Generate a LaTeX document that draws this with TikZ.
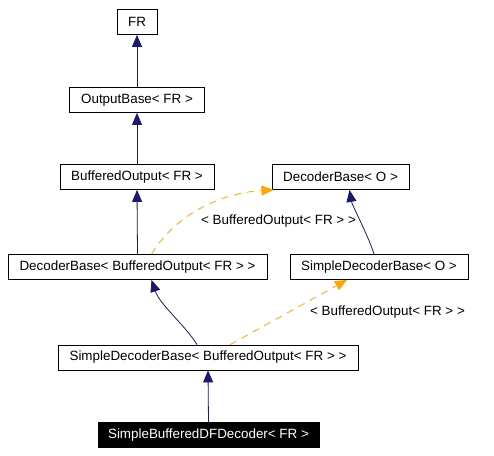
\documentclass[tikz,border=0pt]{standalone}
\usepackage{fontspec}
\setmainfont{Liberation Sans}
\usetikzlibrary{arrows.meta}
\definecolor{edgeblue}{HTML}{191970}
\definecolor{edgeorange}{HTML}{FFA500}
\begin{document}
\begin{tikzpicture}[x=1pt,y=-1pt,
  cls/.style={draw=black,line width=0.8pt,fill=white,minimum height=25pt,inner sep=0pt,font=\fontsize{13.4}{15}\selectfont},
  cur/.style={cls,fill=black,text=white},
  inh/.style={draw=edgeblue,line width=0.8pt,-{Triangle[length=12pt,width=10pt]}},
  tmpl/.style={draw=edgeorange,line width=0.8pt,dash pattern=on 7pt off 6pt,-{Triangle[length=12pt,width=10pt,fill=edgeorange]}},
  lbl/.style={font=\fontsize{13.4}{15}\selectfont,inner sep=0pt}]
\useasboundingbox (0,0) rectangle (494,455);
\node[cls,minimum width=40pt] (fr) at (137,22) {FR};
\node[cls,minimum width=135pt] (ob) at (137,100) {OutputBase< FR >};
\node[cls,minimum width=154pt] (bo) at (137,177) {BufferedOutput< FR >};
\node[cls,minimum width=137pt] (dbo) at (340.5,177) {DecoderBase< O >};
\node[cls,minimum width=259pt] (dbbo) at (137.5,267) {DecoderBase< BufferedOutput< FR > >};
\node[cls,minimum width=178pt] (sdbo) at (379,267) {SimpleDecoderBase< O >};
\node[cls,minimum width=300pt] (sdbbo) at (208,357.5) {SimpleDecoderBase< BufferedOutput< FR > >};
\node[cur,minimum width=221pt] (sbdf) at (208.5,435) {SimpleBufferedDFDecoder< FR >};
\draw[inh] (ob.north) -- (fr.south);
\draw[inh] (bo.north) -- (ob.south);
\draw[inh] (dbbo.north) -- (bo.south);
\draw[inh] (sbdf.north) -- (sdbbo.south);
\draw[inh] ([xshift=-5pt]sdbo.north) .. controls (368,235) and (352,205) .. ([xshift=9pt]dbo.south);
\draw[inh] ([xshift=-11pt]sdbbo.north) .. controls (185,325) and (160,305) .. ([xshift=14pt]dbbo.south);
\draw[tmpl] ([xshift=14pt]dbbo.north) .. controls (175,215) and (220,193) .. ([xshift=-67pt]dbo.south);
\draw[tmpl] ([xshift=22pt]sdbbo.north) -- ([xshift=-32pt]sdbo.south);
\node[lbl] (l1) at (278.5,221) {< BufferedOutput< FR > >};
\node[lbl] (l2) at (387.5,312) {< BufferedOutput< FR > >};
\end{tikzpicture}
\end{document}
